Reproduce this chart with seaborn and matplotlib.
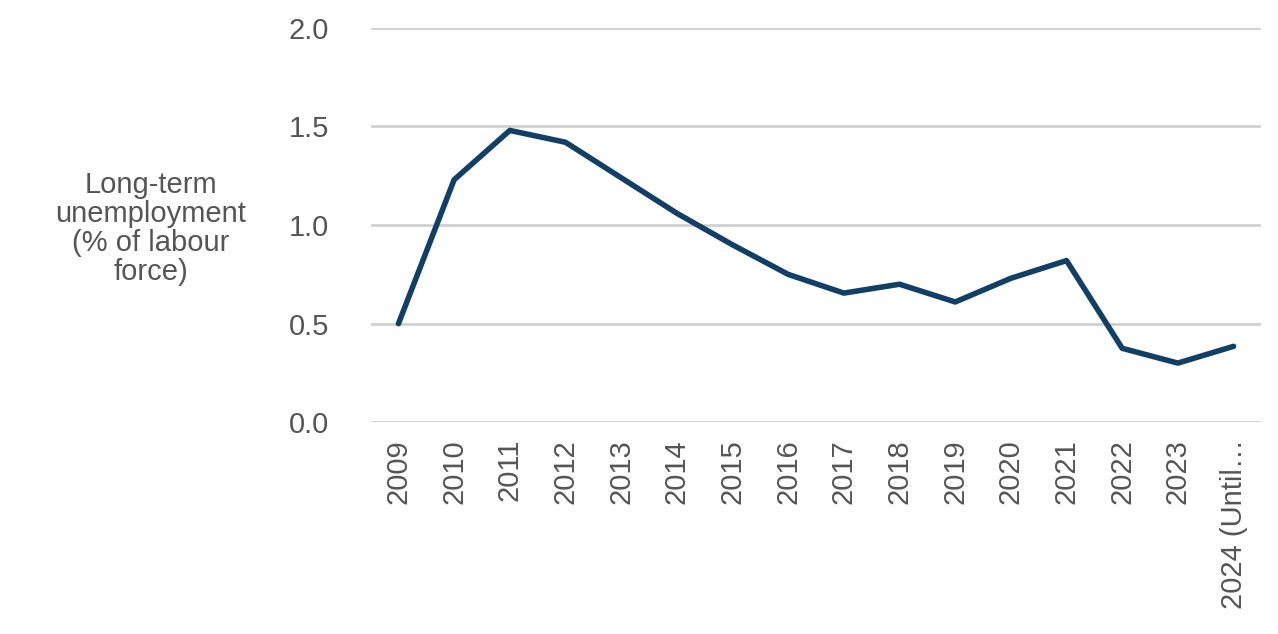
import matplotlib
matplotlib.use("Agg")
import matplotlib.pyplot as plt
import seaborn as sns
import pandas as pd

years = ['2009', '2010', '2011', '2012', '2013', '2014', '2015', '2016',
         '2017', '2018', '2019', '2020', '2021', '2022', '2023', '2024 (Until…']
values = [0.50, 1.23, 1.48, 1.42, 1.24, 1.06, 0.90, 0.75,
          0.655, 0.70, 0.61, 0.73, 0.82, 0.375, 0.30, 0.385]

df = pd.DataFrame({'year': years, 'value': values})

sns.set_style('white')
plt.rcParams['font.family'] = ['Liberation Sans', 'DejaVu Sans']

fig = plt.figure(figsize=(12.78, 6.34), dpi=100)
ax = fig.add_axes([0.29, 0.334, 0.697, 0.622])
sns.lineplot(data=df, x='year', y='value', color='#123f66', lw=4, ax=ax, sort=False)

ax.set_xlim(-0.5, len(years) - 0.5)
ax.set_ylim(0, 2.0)
ax.set_yticks([0, 0.5, 1.0, 1.5, 2.0])
ax.set_yticklabels(['0.0', '0.5', '1.0', '1.5', '2.0'])
ax.yaxis.grid(True, color='#d0d0d0', lw=2)
for s in ax.spines.values():
    s.set_visible(False)
ax.tick_params(axis='both', length=0, labelsize=21, labelcolor='#555555', pad=12)
ax.tick_params(axis='y', pad=30)
plt.setp(ax.get_xticklabels(), rotation=90)
ax.set_xlabel('')
ax.set_ylabel('')
fig.text(0.118, 0.64, 'Long-term\nunemployment\n(% of labour\nforce)', ha='center', va='center',
         fontsize=21, color='#555555', linespacing=1.05)

fig.savefig('out.png', dpi=100)
